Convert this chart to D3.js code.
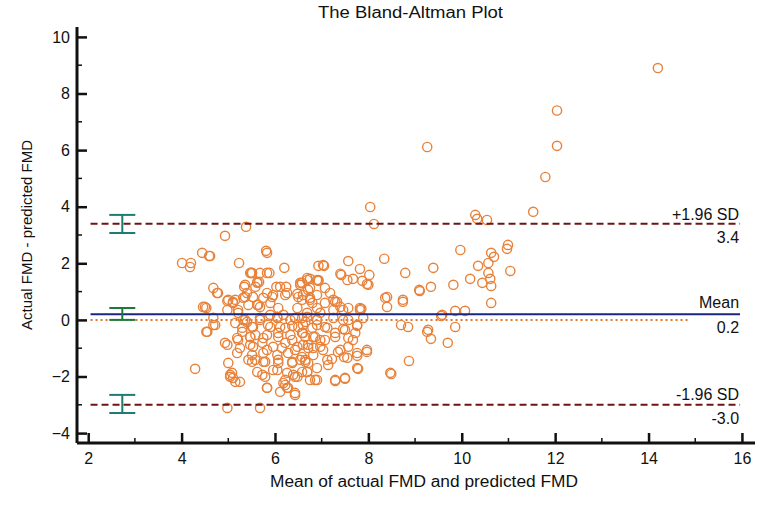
<!DOCTYPE html>
<html>
<head>
<meta charset="utf-8">
<script src="https://cdn.jsdelivr.net/npm/d3@7"></script>
<style>
  body { margin: 0; background: #fff; }
  text { font-family: "Liberation Sans", Arial, sans-serif; fill: #111; }
</style>
</head>
<body>
<div id="app"></div>
<script>
// mean of actual and predicted FMD (x) and their difference (y)
const meanVals = [
  14.2, 12.04, 12.04, 11.79, 11.53, 9.26, 8.04, 8.12, 10.29, 10.33, 10.54,
  9.97, 10.99, 10.97, 10.63, 10.69, 10.57, 10.35, 9.39, 11.04, 10.57, 10.18,
  10.61, 10.44, 10.63, 9.34, 9.82, 9.1, 10.63, 9.86, 10.07, 9.56, 9.86, 9.28,
  7.85, 8.4, 8.74, 9.58, 8.7, 8.85, 9.26, 9.34, 9.7, 8.87, 8.49, 7.97, 7.78,
  7.5, 7.29, 7.76, 7.57, 7.4, 7.48, 7.22, 7.14, 6.9, 6.69, 6.71, 6.54, 6.82,
  6.97, 6.6, 7.07, 7.67, 7.5, 7.29, 7.72, 6.86, 6.6, 6.65, 6.9, 7.07, 7.46,
  7.76, 7.46, 7.25, 6.97, 6.69, 6.8, 7.33,
  7.57, 8.34, 7.05, 7.82, 7.42, 8.02, 8.79, 7.55, 7.67, 7.87, 8.0, 6.93,
  6.69, 6.54, 6.75, 7.07, 7.18, 6.9, 6.6, 9.09, 8.4, 8.74, 7.82, 7.25, 7.07,
  6.75, 7.4,
  5.38, 4.93, 4.44, 4.59, 5.81, 4.01, 4.2, 4.18, 5.23, 6.2, 5.47, 5.68, 5.88,
  5.62, 5.34, 5.58, 6.03, 6.24, 4.68, 4.76, 5.4, 6.54, 6.69, 6.9, 6.93, 5.0,
  5.15, 5.36, 5.94, 6.22, 6.5, 6.75, 4.5, 5.64, 5.9,
  4.46, 4.68, 4.68, 4.55, 5.21, 5.36, 5.68, 5.9, 6.18, 6.43, 6.69, 5.15,
  5.51, 5.85, 6.11, 6.37, 6.6, 6.9, 5.3, 5.58, 5.83, 6.07, 6.33, 6.58, 6.82,
  4.93, 5.21, 5.47, 5.73, 5.96, 6.22, 6.48, 6.71, 5.19, 5.51, 5.75, 6.05,
  6.28, 6.58, 6.82, 5.51, 5.79, 6.07, 6.37, 6.65, 5.0, 4.29, 5.08, 5.1, 5.25,
  5.73, 6.05, 6.39, 6.69, 6.86, 6.22, 6.28, 6.11, 6.43, 5.83, 4.98, 5.68,
  4.61, 4.78, 4.53, 4.98, 5.1, 5.4, 4.53, 4.72, 4.98, 5.04, 6.43, 6.22,
  5.47, 5.58, 6.05, 5.62, 5.83, 6.11, 5.83, 5.51, 5.83, 5.36, 5.62,
  7.03, 5.49, 7.4, 7.97, 5.66, 6.58, 6.75, 6.93, 6.71, 6.48, 6.26, 5.96,
  5.75, 5.53, 5.32, 5.1, 6.58, 7.29, 6.9, 6.48, 6.07, 5.68, 5.43, 5.21, 4.98,
  7.82, 7.57, 8.36, 5.32, 5.68, 6.05, 6.33, 6.58, 6.9, 7.25, 7.57, 7.89,
  5.3, 5.53, 5.9, 6.22, 6.5, 6.8, 7.12, 7.46, 7.76, 5.19, 5.47, 5.75, 6.07,
  6.37, 6.65, 6.97, 7.29, 7.57, 5.25, 5.53, 5.83, 6.15, 6.43, 6.71, 7.03,
  7.35, 7.76, 7.97, 5.43, 5.75, 6.07, 6.37, 6.65, 7.12, 7.55, 7.76, 5.62,
  5.96, 6.26, 6.58, 6.9, 5.04, 5.15, 5.79, 6.18, 6.48, 6.75, 7.29, 7.5, 5.83,
  6.26, 6.43, 8.47
];
const diffVals = [
  8.9, 7.4, 6.15, 5.05, 3.82, 6.11, 3.99, 3.39, 3.71, 3.57, 3.53,
  2.47, 2.65, 2.51, 2.37, 2.23, 2.01, 1.91, 1.84, 1.73, 1.66, 1.45,
  1.45, 1.31, 1.2, 1.17, 1.24, 1.02, 0.6, 0.32, 0.32, 0.14, -0.25, -0.35,
  0.39, 0.46, 0.64, 0.18, -0.18, -0.25, -0.42, -0.67, -0.81, -1.45, -1.91, -1.13, -1.73,
  -2.08, -2.16, -1.27, -0.95, -1.06, -1.31, -1.38, -1.59, -2.12, -1.84, -1.52, -1.41, -0.99,
  -0.95, -0.88, -0.71, -0.71, -0.35, -0.46, -0.46, -0.6, -0.46, -0.07, 0.0, -0.25, 0.0,
  -0.18, 0.35, 0.35, 0.25, 0.25, 0.6, 0.64,
  2.08, 2.16, 1.91, 1.8, 1.59, 1.59, 1.66, 1.41, 1.45, 1.38, 1.24, 1.41,
  1.41, 1.24, 1.13, 1.13, 0.95, 0.88, 0.88, 1.06, 0.81, 0.71, 0.42, 0.71, 0.6,
  0.71, 0.46,
  3.29, 2.97, 2.37, 2.26, 2.44, 2.01, 2.01, 1.87, 2.01, 1.84, 1.66, 1.66, 1.66,
  1.34, 1.17, 1.17, 1.17, 1.17, 1.13, 0.95, 0.95, 1.31, 1.48, 1.41, 1.91, 0.71,
  0.71, 0.81, 0.81, 0.88, 0.81, 0.78, 0.46, 0.53, 0.6,
  0.46, 0.07, -0.18, -0.42, 0.25, 0.0, 0.07, 0.18, 0.18, 0.07, 0.11, -0.11,
  -0.25, -0.18, -0.25, -0.21, -0.18, -0.18, -0.42, -0.53, -0.53, -0.46, -0.53, -0.46, -0.6,
  -0.81, -0.71, -0.88, -0.81, -0.95, -0.81, -0.95, -0.88, -1.17, -1.24, -1.17, -1.24,
  -1.17, -1.31, -1.24, -1.48, -1.48, -1.52, -1.52, -1.48, -1.52, -1.73, -1.87, -2.05, -2.19,
  -1.94, -1.77, -1.94, -1.84, -2.12, -2.12, -2.4, -2.54, -2.65, -2.4, -3.11, -3.11,
  2.26, 0.95, 0.42, 0.67, 0.6, -0.07, -0.42, -0.18, -0.88, -2.01, -2.01, -2.3,
  -0.6, -1.41, 0.11, 0.53, 0.95, 1.17, 2.37, 1.66, 1.66, 1.24, 1.31,
  1.94, 1.66, 1.63, 1.27, 1.34, 1.31, 1.45, 1.38, 1.06, 0.92, 0.95, 0.88,
  0.78, 0.81, 0.78, 0.64, 0.71, 0.64, 0.42, 0.42, 0.42, 0.46, 0.53, 0.35, 0.35,
  0.35, 0.42, 0.78, 0.0, 0.0, 0.07, 0.0, 0.07, 0.0, 0.07, 0.0, 0.07,
  -0.28, -0.25, -0.25, -0.28, -0.25, -0.28, -0.28, -0.32, -0.21, -0.64, -0.6, -0.64, -0.6,
  -0.71, -0.6, -0.71, -0.6, -0.64, -0.99, -0.95, -1.06, -0.99, -1.06, -0.99, -1.06,
  -1.13, -1.17, -1.06, -1.41, -1.48, -1.41, -1.48, -1.41, -1.41, -1.34, -1.7, -1.84,
  -1.77, -1.87, -1.84, -1.7, -1.94, -2.19, -2.01, -2.23, -2.01, -2.12, -2.12, -2.05, -2.4,
  -2.4, -2.58, -1.87
];

// limits of agreement and their confidence intervals
const meanDiff = 0.2;
const upperLoA = 3.4;
const lowerLoA = -3.0;
const ciBars = [
  { lo: 3.07, hi: 3.71, color: "#1e7d70" },
  { lo: 0.0, hi: 0.42, color: "#1b7a3a" },
  { lo: -3.29, hi: -2.65, color: "#1e7d70" }
];
const ciX = 2.73;
const xTicks = [2, 4, 6, 8, 10, 12, 14, 16];
const yTicks = [-4, -2, 0, 2, 4, 6, 8, 10];

const w = 765, h = 505;
const pLeft = 77, pRight = 755, pTop = 27, pBottom = 443;

const svg = d3.select("#app").append("svg")
  .attr("width", w)
  .attr("height", h);

const x = d3.scaleLinear().domain([1.76, 16.28]).range([pLeft, pRight]);
const y = d3.scaleLinear().domain([-4.35, 10.35]).range([pBottom, pTop]);

// reference lines
const lineStart = 2.05, lineEnd = 15.96;
svg.append("line")
  .attr("x1", x(lineStart)).attr("x2", x(14.87))
  .attr("y1", y(0)).attr("y2", y(0))
  .attr("stroke", "#e0762a").attr("stroke-width", 2)
  .attr("stroke-dasharray", "2,3");

// points
svg.append("g")
  .selectAll("circle")
  .data(d3.zip(meanVals, diffVals))
  .join("circle")
  .attr("cx", d => x(d[0]))
  .attr("cy", d => y(d[1]))
  .attr("r", 4.6)
  .attr("fill", "none")
  .attr("stroke", "#e8823a")
  .attr("stroke-width", 1.4);

svg.append("line")
  .attr("x1", x(lineStart)).attr("x2", x(lineEnd))
  .attr("y1", y(meanDiff)).attr("y2", y(meanDiff))
  .attr("stroke", "#1c2580").attr("stroke-width", 2);

[upperLoA, lowerLoA].forEach(v => {
  svg.append("line")
    .attr("x1", x(lineStart)).attr("x2", x(lineEnd))
    .attr("y1", y(v)).attr("y2", y(v))
    .attr("stroke", "#6e1414").attr("stroke-width", 2)
    .attr("stroke-dasharray", "7,4");
});

// confidence interval bars
ciBars.forEach(c => {
  const g = svg.append("g").attr("stroke", c.color).attr("stroke-width", 2);
  g.append("line").attr("x1", x(ciX)).attr("x2", x(ciX)).attr("y1", y(c.lo)).attr("y2", y(c.hi));
  g.append("line").attr("x1", x(ciX) - 13).attr("x2", x(ciX) + 13).attr("y1", y(c.lo)).attr("y2", y(c.lo));
  g.append("line").attr("x1", x(ciX) - 13).attr("x2", x(ciX) + 13).attr("y1", y(c.hi)).attr("y2", y(c.hi));
});

// line labels
const labelX = x(lineEnd) - 1;
const lineLabels = [
  { v: upperLoA, top: "+1.96 SD", bot: upperLoA.toFixed(1), up: 4 },
  { v: meanDiff, top: "Mean", bot: meanDiff.toFixed(1), up: 6 },
  { v: lowerLoA, top: "-1.96 SD", bot: lowerLoA.toFixed(1), up: 5 }
];
lineLabels.forEach(l => {
  svg.append("text").attr("x", labelX).attr("y", y(l.v) - l.up)
    .attr("text-anchor", "end").style("font-size", "16px").text(l.top);
  svg.append("text").attr("x", labelX).attr("y", y(l.v) + 19)
    .attr("text-anchor", "end").style("font-size", "16px").text(l.bot);
});

// axes
const xAxis = d3.axisBottom(x).tickValues(xTicks).tickSize(-10).tickPadding(10);
const yAxis = d3.axisLeft(y).tickValues(yTicks).tickSize(-10).tickPadding(7);

const gx = svg.append("g").attr("transform", `translate(0,${pBottom})`).call(xAxis);
const gy = svg.append("g").attr("transform", `translate(${pLeft},0)`).call(yAxis);

[gx, gy].forEach(g => {
  g.select(".domain").attr("stroke", "#111").attr("stroke-width", 3);
  g.selectAll(".tick line").attr("stroke", "#111").attr("stroke-width", 2.5);
  g.selectAll(".tick text").style("font-size", "16px")
    .style("font-family", "'Liberation Sans', Arial, sans-serif").attr("fill", "#111");
});
gx.select(".domain").attr("d", `M${pLeft},0H${pRight}`);
gy.select(".domain").attr("d", `M0,${pTop}V${pBottom}`);

// minor ticks
const xMinor = d3.range(3, 16, 2);
const yMinor = d3.range(-3, 10, 2);
svg.append("g").selectAll("line").data(xMinor).join("line")
  .attr("x1", d => x(d)).attr("x2", d => x(d))
  .attr("y1", pBottom).attr("y2", pBottom - 5)
  .attr("stroke", "#111").attr("stroke-width", 1.5);
svg.append("g").selectAll("line").data(yMinor).join("line")
  .attr("x1", pLeft).attr("x2", pLeft + 5)
  .attr("y1", d => y(d)).attr("y2", d => y(d))
  .attr("stroke", "#111").attr("stroke-width", 1.5);

// titles
svg.append("text").attr("x", 318).attr("y", 18)
  .attr("textLength", 185).attr("lengthAdjust", "spacingAndGlyphs")
  .style("font-size", "16px").text("The Bland-Altman Plot");
svg.append("text").attr("x", 270).attr("y", 487)
  .attr("textLength", 308).attr("lengthAdjust", "spacingAndGlyphs")
  .style("font-size", "16px").text("Mean of actual FMD and predicted FMD");
svg.append("text")
  .attr("transform", `translate(32,${(pTop + pBottom) / 2}) rotate(-90)`)
  .attr("text-anchor", "middle")
  .style("font-size", "15px").text("Actual FMD - predicted FMD");
</script>
</body>
</html>
